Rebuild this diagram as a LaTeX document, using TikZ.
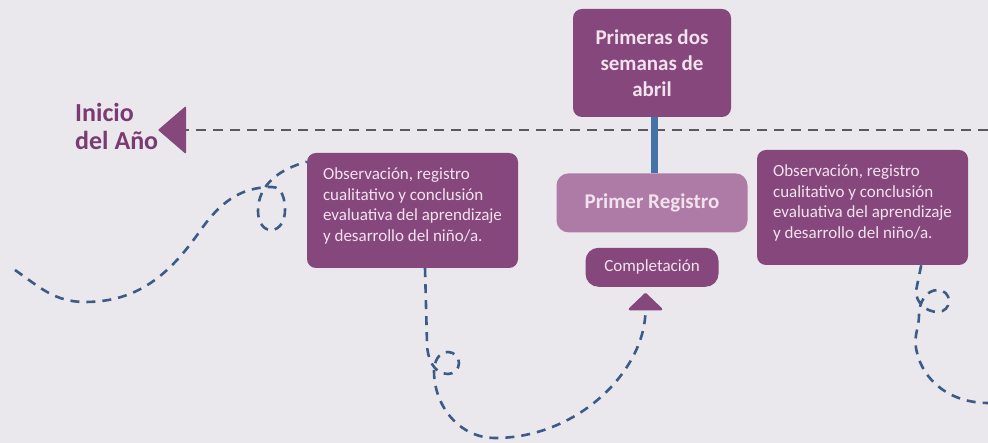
\documentclass[tikz,border=0pt]{standalone}
\usepackage{fontspec}
\setmainfont{Carlito}
\usepackage{xcolor}
\usepackage{tikz}
\usetikzlibrary{positioning, arrows.meta, backgrounds}

\definecolor{paper}{HTML}{EAE8EC}
\definecolor{plum}{HTML}{85477C}
\definecolor{lightplum}{HTML}{AD7BA6}
\definecolor{boxtext}{HTML}{F2E2EE}
\definecolor{titleplum}{HTML}{7B3B72}
\definecolor{barblue}{HTML}{4672AA}
\definecolor{trailblue}{HTML}{3B5B8A}
\definecolor{guidegray}{HTML}{5A5A5A}

\begin{document}
\begin{tikzpicture}[
    x=1pt, y=1pt,
    node distance=15pt,
    box/.style={rectangle, rounded corners=9pt, fill=plum, text=boxtext, align=center},
    note/.style={box, align=left, minimum width=211pt, minimum height=115pt, inner xsep=15pt, font=\fontsize{17}{20.7}\selectfont},
    trail/.style={draw=trailblue, line width=2.6pt, dash pattern=on 9pt off 7pt},
    guide/.style={draw=guidegray, line width=1.4pt, dash pattern=on 10pt off 7pt}
]
\useasboundingbox (0,0) rectangle (988,443);

\node[anchor=west, align=left, inner sep=0pt, text=titleplum, font=\fontsize{26}{28}\selectfont\bfseries] (inicio) at (75,317) {Inicio\\del Año};
\coordinate (guideend) at (988,313);
\coordinate (westend) at (15,173);
\coordinate (eastend) at (988,40);

\node[box, minimum width=158pt, minimum height=108pt, font=\fontsize{21}{26}\selectfont\bfseries] (primeras) at (652,380) {Primeras dos\\semanas de\\abril};
\node[box, below=56pt of primeras, fill=lightplum, minimum width=191pt, minimum height=59pt, rounded corners=12pt, font=\fontsize{21}{25}\selectfont\bfseries] (primer) {Primer Registro};
\node[box, below=of primer, minimum width=133pt, minimum height=39pt, rounded corners=13pt, font=\fontsize{17}{20}\selectfont] (complet) {Completación};

\node[note] (obsleft) at (412.5,232.5) {Observación, registro\\cualitativo y conclusión\\evaluativa del aprendizaje\\y desarrollo del niño/a.\rule[-12pt]{0pt}{1pt}};
\node[note] (obsright) at (862.5,235.5) {Observación, registro\\cualitativo y conclusión\\evaluativa del aprendizaje\\y desarrollo del niño/a.\rule[-12pt]{0pt}{1pt}};

\draw[barblue, line width=7pt] ([xshift=2pt]primeras.south) -- ([xshift=2pt]primer.north);

\begin{scope}[on background layer]
\fill[paper] (0,0) rectangle (988,443);
\draw[guide, -{Triangle[length=28pt, width=48pt, round, color=plum]}] (guideend) -- (guideend -| inicio.east);
\draw[trail] (westend) to[out=-35,in=180] (85,141) to[out=0,in=-125] (200,212) to[out=55,in=180] (272,256) to[out=0,in=90] (285,233) to[out=-90,in=0] (271,213) to[out=180,in=-90] (258,232) to[out=90,in=195] ([yshift=-9pt]obsleft.north west);
\draw[trail, -{Triangle[length=18pt, width=37pt, round, color=plum]}, shorten >=6pt] ([xshift=12.5pt]obsleft.south) -- (427,100) to[out=-90,in=180] (448,69) to[out=0,in=-90] (459,80) to[out=90,in=0] (448,91) to[out=180,in=90] (434,72) to[out=-90,in=180] (495,5) to[out=0,in=-90] ([xshift=-6.5pt]complet.south);
\draw[trail] ([xshift=-47pt]obsright.south east) -- (916,152) to[out=-90,in=180] (938,131) to[out=0,in=-90] (949,142) to[out=90,in=0] (938,153) to[out=180,in=90] (919,128) to[out=-90,in=100] (916,95) to[out=-80,in=180] (eastend);
\end{scope}
\end{tikzpicture}
\end{document}
